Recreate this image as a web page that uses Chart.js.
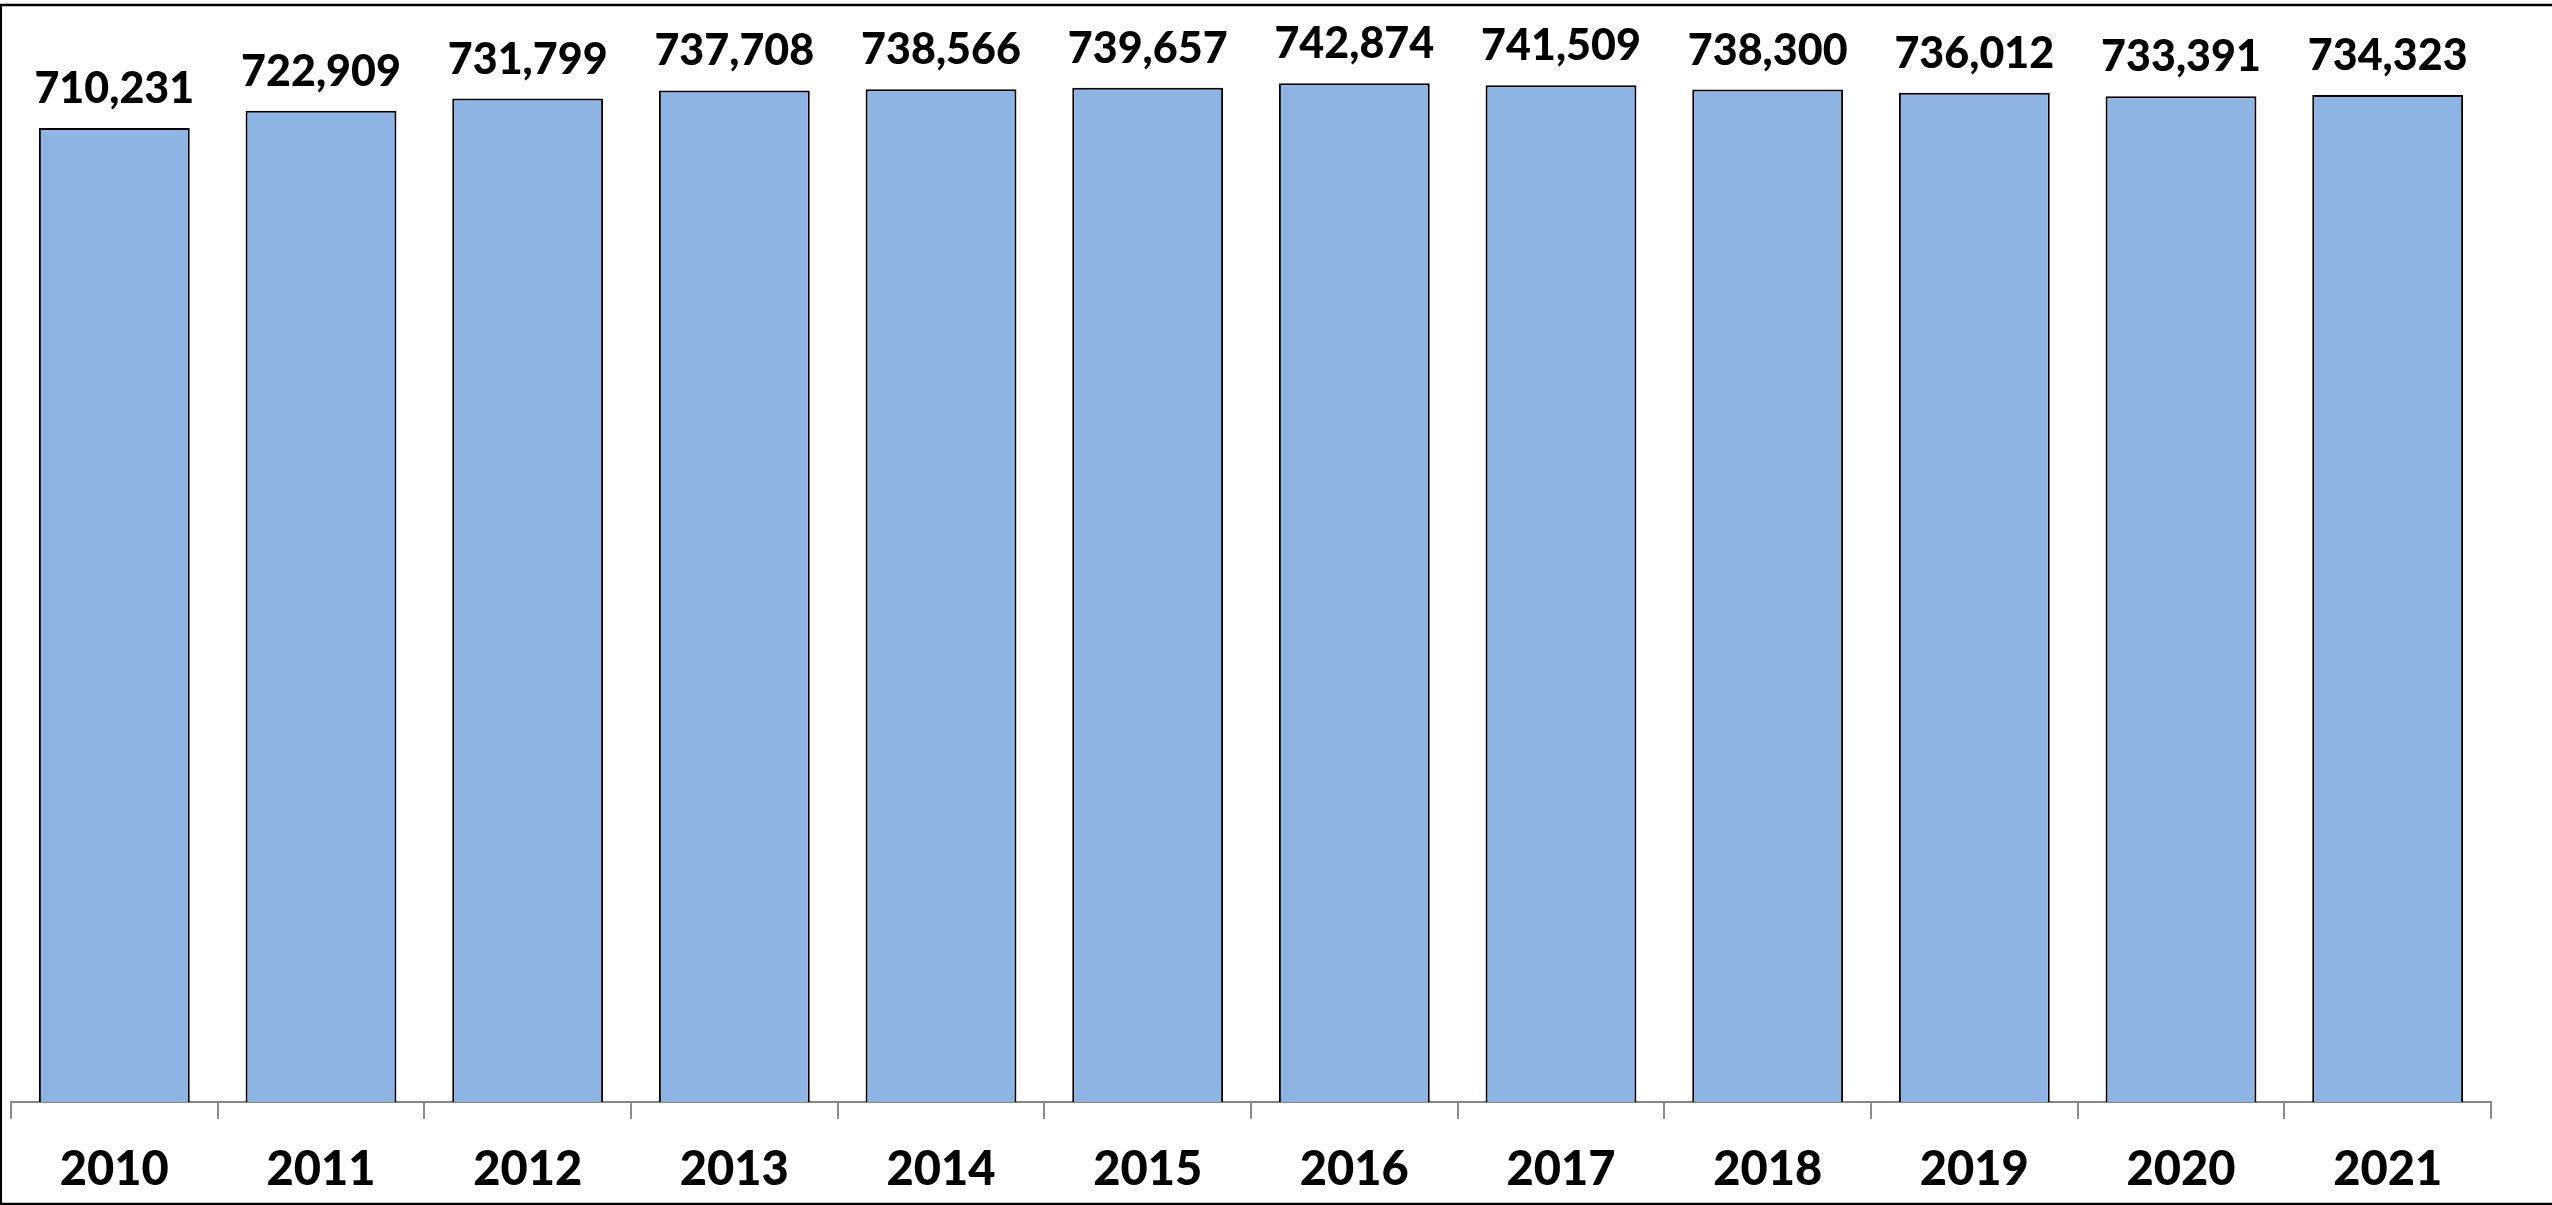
<!DOCTYPE html>
<html>
<head>
<meta charset="utf-8">
<script src="https://cdn.jsdelivr.net/npm/chart.js@4.4.0/dist/chart.umd.min.js"></script>
<style>
  html, body { margin: 0; padding: 0; background: #ffffff; }
  #wrap { width: 2552px; height: 1205px; position: relative; }
</style>
</head>
<body>
<div id="wrap"><canvas id="popChart" width="2552" height="1205"></canvas></div>
<script>
// data
const years = ['2010', '2011', '2012', '2013', '2014', '2015', '2016', '2017', '2018', '2019', '2020', '2021'];
const population = [710231, 722909, 731799, 737708, 738566, 739657, 742874, 741509, 738300, 736012, 733391, 734323];
const yMin = 0;
const yMax = 800000;

const FONT = 'Lato, "Open Sans", sans-serif';

// frame round the picture (left, top, bottom; right side runs off the edge)
const framePlugin = {
    id: 'frame',
    beforeDraw(chart) {
        const c = chart.ctx;
        c.save();
        c.fillStyle = '#ffffff';
        c.fillRect(0, 0, chart.width, chart.height);
        c.strokeStyle = '#000000';
        c.lineWidth = 2.5;
        c.strokeRect(0.8, 5, chart.width + 10, chart.height - 6);
        c.restore();
    }
};

// value labels above each bar
const valueLabels = {
    id: 'valueLabels',
    afterDatasetsDraw(chart) {
        const c = chart.ctx;
        const meta = chart.getDatasetMeta(0);
        c.save();
        c.font = '900 43px ' + FONT;
        c.fillStyle = '#000000';
        c.textAlign = 'center';
        c.textBaseline = 'alphabetic';
        meta.data.forEach((bar, i) => {
            c.fillText(population[i].toLocaleString('en-US'), bar.x, bar.y - 25);
        });
        c.restore();
    }
};

const ctx = document.getElementById('popChart').getContext('2d');

new Chart(ctx, {
    type: 'bar',
    data: {
        labels: years,
        datasets: [{
            data: population,
            backgroundColor: '#8EB4E3',
            borderColor: '#000000',
            borderWidth: 2,
            categoryPercentage: 1.0,
            barPercentage: 0.73
        }]
    },
    options: {
        responsive: false,
        animation: false,
        devicePixelRatio: 1,
        layout: { padding: { left: 11, right: 61, top: 5, bottom: 0 } },
        plugins: {
            legend: { display: false },
            tooltip: { enabled: false }
        },
        scales: {
            y: {
                display: false,
                min: yMin,
                max: yMax
            },
            x: {
                offset: true,
                afterFit(scale) { scale.height = 103; },
                border: { display: true, color: '#868686', width: 2 },
                grid: {
                    offset: true,
                    drawOnChartArea: false,
                    drawTicks: true,
                    tickLength: 17,
                    color: '#8c8c8c',
                    lineWidth: 2
                },
                ticks: {
                    color: '#000000',
                    padding: 23,
                    font: { family: FONT, size: 47, weight: '900' }
                }
            }
        }
    },
    plugins: [framePlugin, valueLabels]
});
</script>
</body>
</html>
